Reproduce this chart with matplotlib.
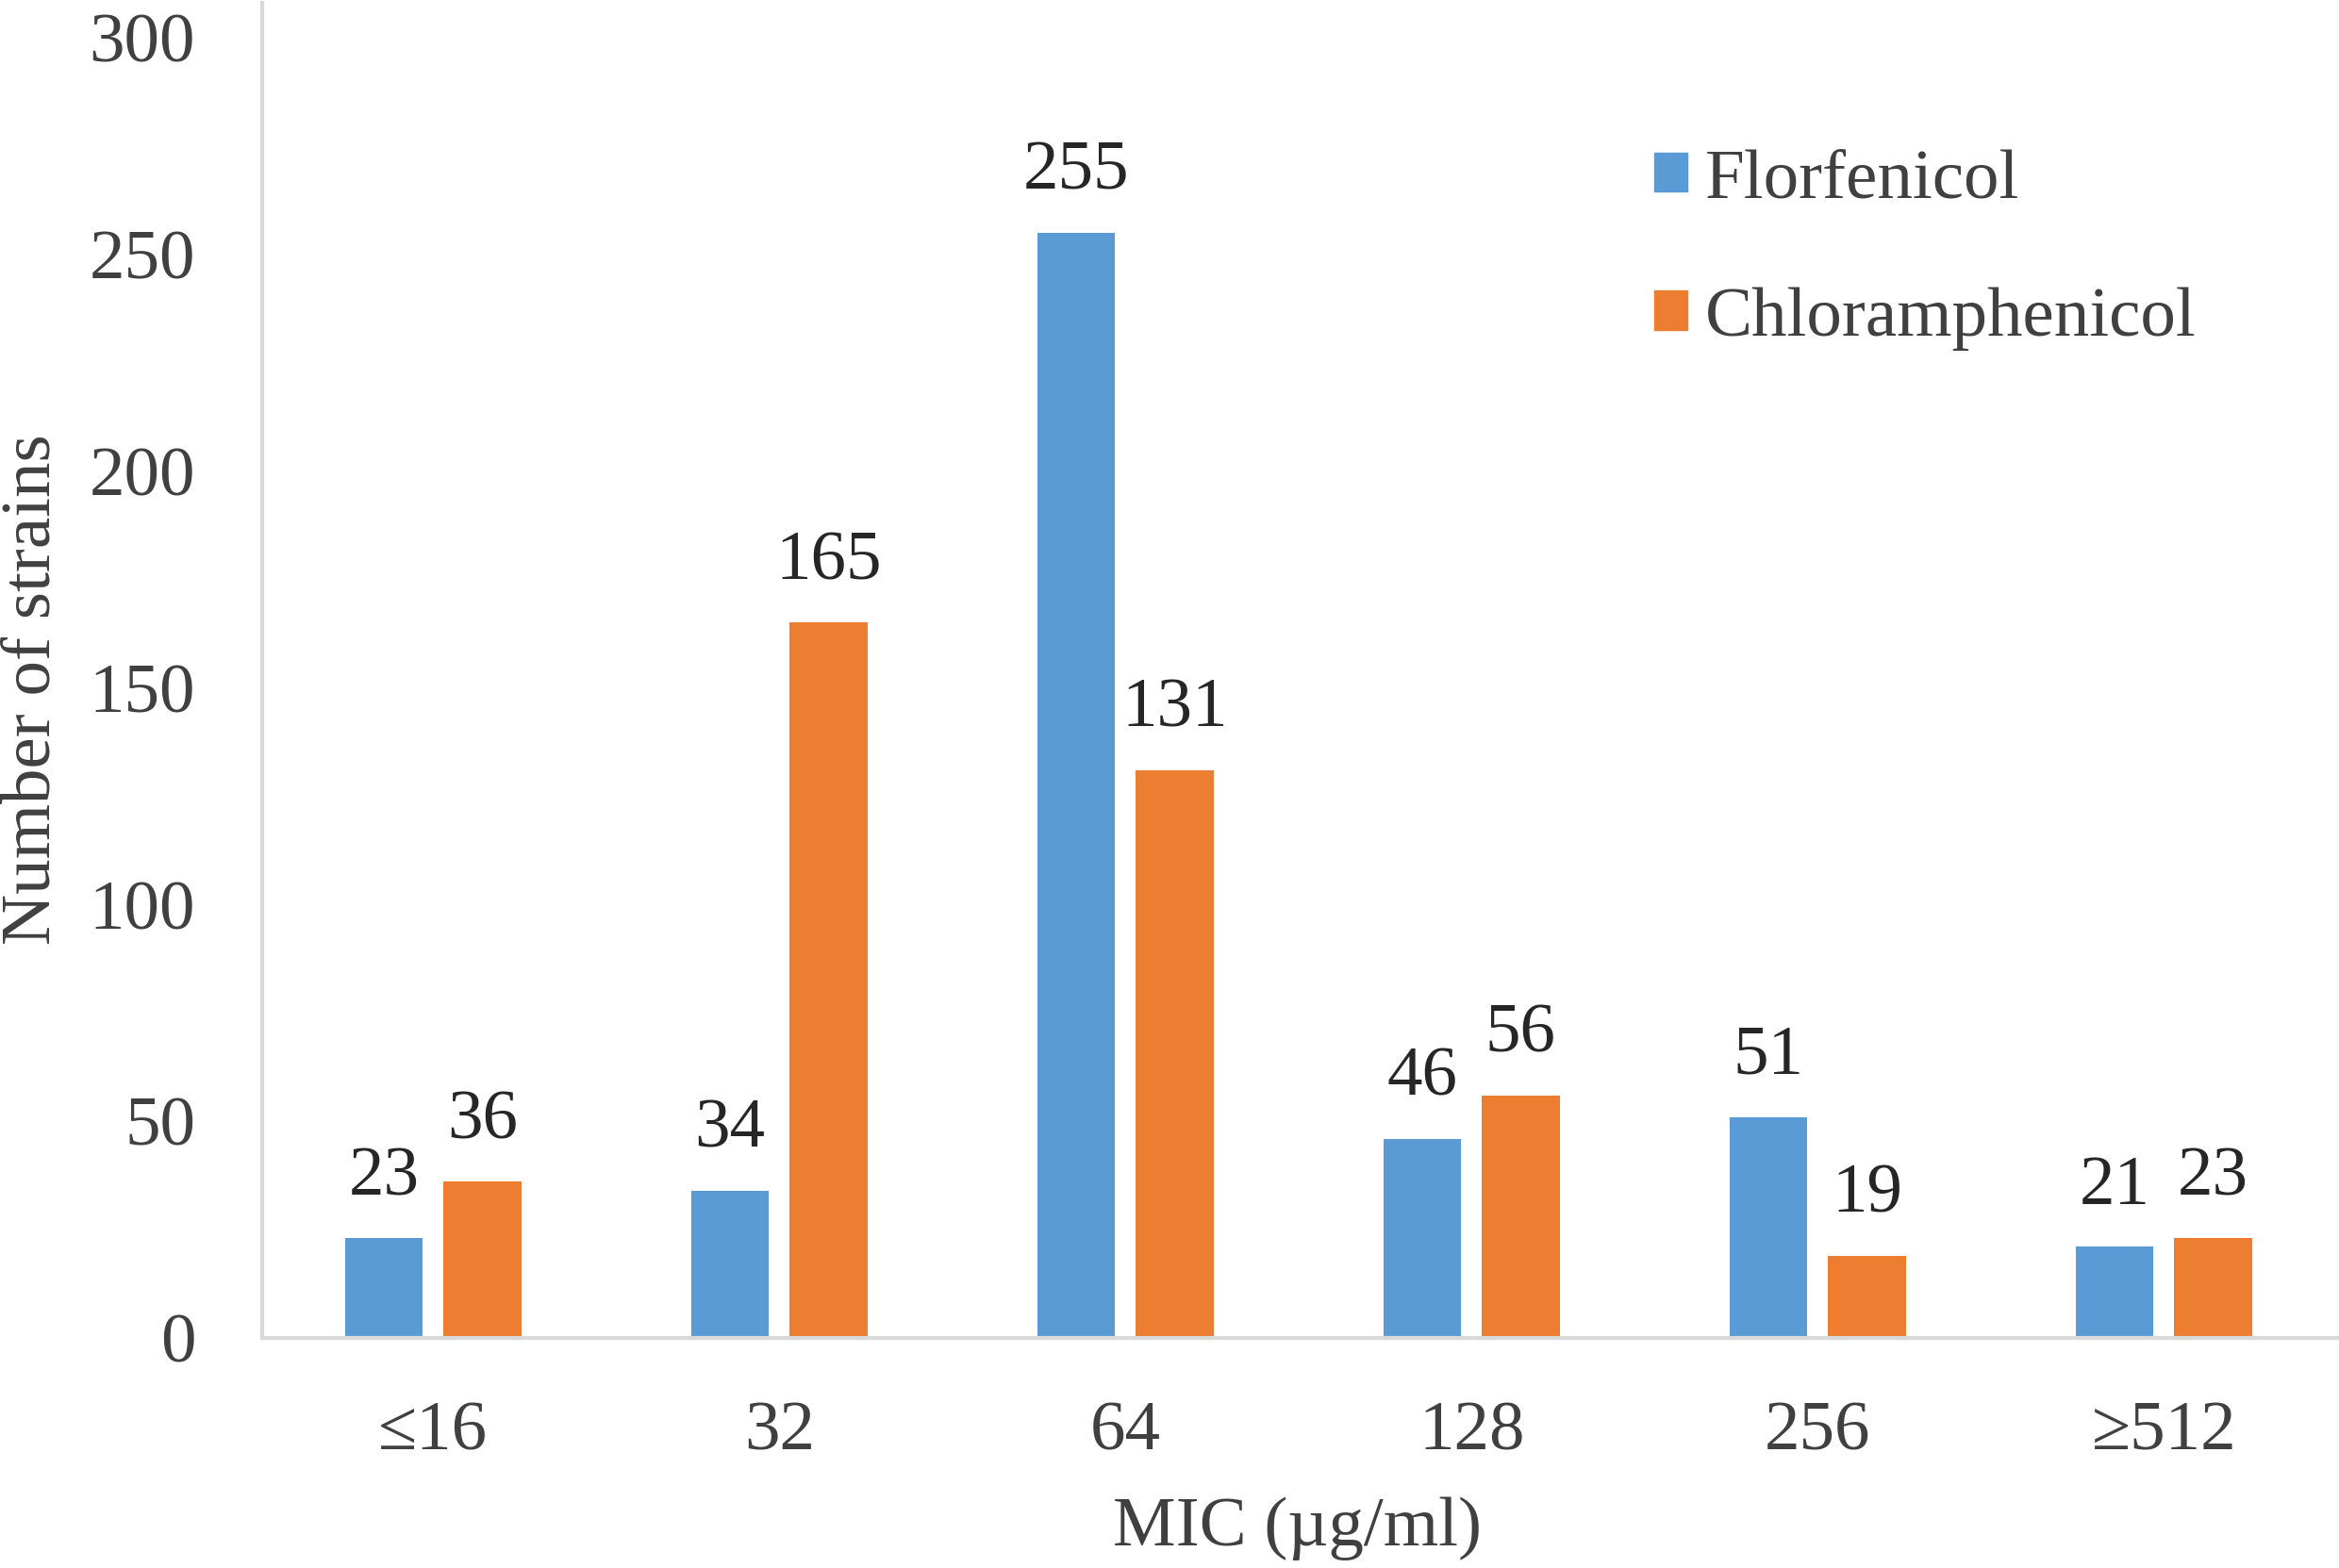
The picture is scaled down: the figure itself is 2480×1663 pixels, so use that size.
import matplotlib.pyplot as plt
from matplotlib.patches import Patch
import numpy as np

categories = ["≤16", "32", "64", "128", "256", "≥512"]
florfenicol = [23, 34, 255, 46, 51, 21]
chloramphenicol = [36, 165, 131, 56, 19, 23]

blue = "#5B9BD5"
orange = "#ED7D31"
grey_line = "#D9D9D9"
text_col = "#404040"

plt.rcParams["font.family"] = ["Liberation Serif", "DejaVu Serif"]
plt.rcParams["font.size"] = 54

fig = plt.figure(figsize=(24.8, 16.63), dpi=100)
ax = fig.add_axes([278 / 2480, 1 - 1419 / 1663, 1 - 278 / 2480, 1416 / 1663])

x = np.arange(len(categories))
width = 0.224
offset = 0.142
bars_f = ax.bar(x - offset, florfenicol, width, color=blue, label="Florfenicol", zorder=2)
bars_c = ax.bar(x + offset, chloramphenicol, width, color=orange, label="Chloramphenicol", zorder=2)

for bars, vals in ((bars_f, florfenicol), (bars_c, chloramphenicol)):
    for b, v in zip(bars, vals):
        ax.annotate(
            str(v),
            (b.get_x() + b.get_width() / 2, v),
            xytext=(0, 33),
            textcoords="offset points",
            ha="center",
            va="baseline",
            color="#262626",
        )

ax.set_xlim(-0.494, 5.506)
ax.set_ylim(0, 308)
ax.set_yticks(range(0, 301, 50))
ax.set_xticks(x)
ax.set_xticklabels(categories)
ax.tick_params(axis="both", length=0, colors=text_col, labelsize=54)
ax.tick_params(axis="y", pad=51)
ax.tick_params(axis="x", pad=48)

for side in ("top", "right"):
    ax.spines[side].set_visible(False)
for side in ("left", "bottom"):
    ax.spines[side].set_color(grey_line)
    ax.spines[side].set_linewidth(3)

fig.text(35 / 2480, 1 - 731 / 1663, "Number of strains", rotation=90,
         ha="center", va="center", color=text_col)
fig.text(1376 / 2480, 1 - 1621 / 1663, "MIC (µg/ml)",
         ha="center", va="center", color=text_col)

handles = [Patch(color=blue, label="Florfenicol"), Patch(color=orange, label="Chloramphenicol")]
leg = fig.legend(
    handles=handles,
    loc="upper left",
    bbox_to_anchor=(1754 / 2480, 1 - 158 / 1663),
    frameon=False,
    borderpad=0,
    borderaxespad=0,
    handlelength=0.47,
    handleheight=0.47,
    handletextpad=0.25,
    labelspacing=1.05,
    fontsize=54,
)
for t in leg.get_texts():
    t.set_color(text_col)

fig.savefig("out.png", dpi=100, facecolor="white")
